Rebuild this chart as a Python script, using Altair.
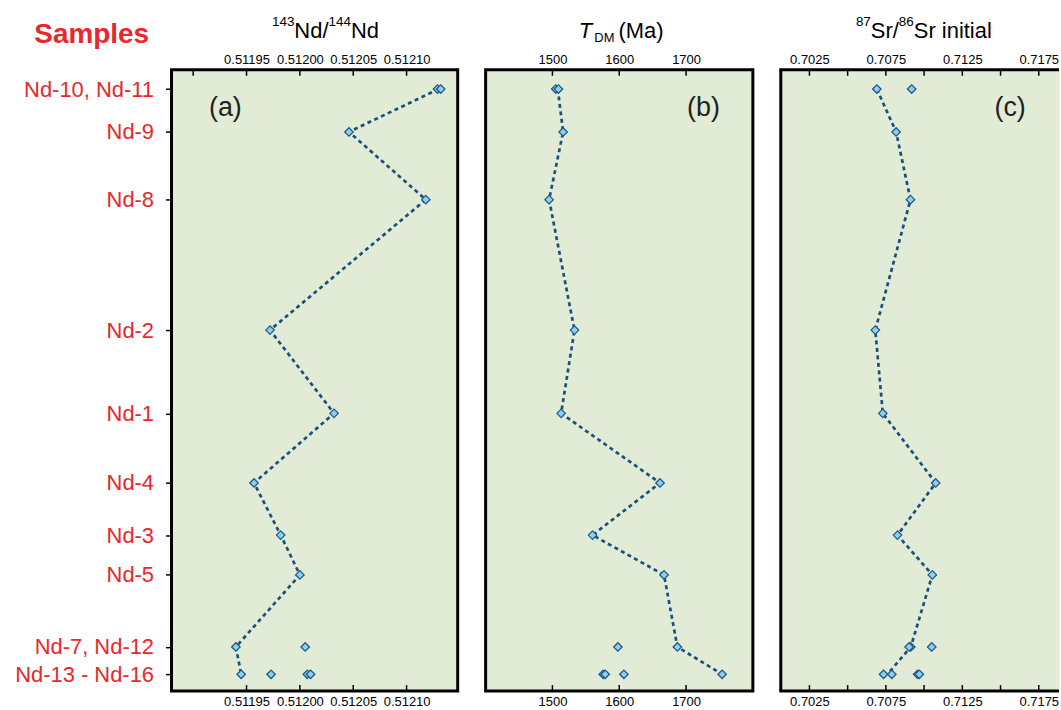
import json
import altair as alt
import pandas as pd

# ---------------- data ----------------
samples = ["Nd-10, Nd-11", "Nd-9", "Nd-8", "Nd-2", "Nd-1", "Nd-4", "Nd-3", "Nd-5",
           "Nd-7, Nd-12", "Nd-13 - Nd-16"]
# relative stratigraphic position (0 = top of column, 100 = base)
position = [3.1, 10.0, 20.9, 41.9, 55.3, 66.5, 74.9, 81.3, 92.9, 97.3]

nd_line = [0.512130, 0.512046, 0.512118, 0.511972, 0.512032, 0.511957, 0.511982,
           0.512000, 0.511940, 0.511945]
nd_points = [[0.512129, 0.512132], [0.512046], [0.512118], [0.511972], [0.512032],
             [0.511957], [0.511982], [0.512000], [0.511940, 0.512005],
             [0.511945, 0.511973, 0.512007, 0.512010]]

tdm_line = [1508, 1516, 1495, 1533, 1513, 1661, 1560, 1667, 1687, 1754]
tdm_points = [[1505, 1509], [1516], [1495], [1533], [1513], [1661], [1560], [1667],
              [1687, 1598], [1754, 1576, 1579, 1607]]

sr_line = [0.70691, 0.70817, 0.70911, 0.70681, 0.70730, 0.71076, 0.70826, 0.71054,
           0.70913, 0.70760]
sr_points = [[0.70691, 0.70919], [0.70817], [0.70911], [0.70681], [0.70730], [0.71076],
             [0.70826], [0.71054], [0.70913, 0.70902, 0.71050],
             [0.70735, 0.70789, 0.70958, 0.70969]]

nd_ticks_top = [0.51190, 0.51195, 0.51200, 0.51205, 0.51210]
nd_ticks_bottom = [0.51195, 0.51200, 0.51205, 0.51210]
nd_labels = [0.51195, 0.51200, 0.51205, 0.51210]
tdm_ticks = [1500, 1600, 1700]
tdm_labels = [1500, 1600, 1700]
sr_ticks = [0.7025, 0.7050, 0.7075, 0.7100, 0.7125, 0.7150, 0.7175]
sr_labels = [0.7025, 0.7075, 0.7125, 0.7175]

# ---------------- style ----------------
FONT = "Liberation Sans"
BG = "#e1ebd5"
LINE = "#1d4f7c"
FILL = "#8fd0ee"
MSTROKE = "#1f5a8a"
RED = "#e8282b"
H = 623


def line_frame(vals):
    return pd.DataFrame({"sample": samples, "pos": position, "v": vals})


def point_frame(lists):
    rows = []
    for s, p, vs in zip(samples, position, lists):
        for v in vs:
            rows.append({"sample": s, "pos": p, "v": v})
    return pd.DataFrame(rows)


ONE = alt.Data(values=[{}])


def txt(text, x, y, size, align="left", baseline="alphabetic", **kw):
    return alt.Chart(ONE).mark_text(text=text, align=align, baseline=baseline,
                                    fontSize=size, font=FONT, color="black", **kw).encode(
        x=alt.value(x), y=alt.value(y))


def anchor(x, y):
    # invisible corner marker that fixes the page bounds
    return alt.Chart(ONE).mark_rule(color="white", strokeWidth=1, opacity=0).encode(
        x=alt.value(x), y=alt.value(y), y2=alt.value(y + 0.5))


def panel(lvals, pvals, domain, width, ticks_top, ticks_bottom, labels, fmt, letter,
          letter_x, extra, left_axis=False, open_right=False):
    xs = alt.Scale(domain=domain, nice=False, zero=False)
    ys = alt.Scale(domain=[0, 100], reverse=True, nice=False, zero=False)
    axis_common = dict(values=labels, format=fmt, tickSize=0, domain=False, grid=False,
                       labelFontSize=13, labelFont=FONT, labelColor="black", title=None)
    if left_axis:
        expr = "%s[indexof(%s, datum.value)]" % (json.dumps(samples), json.dumps(position))
        yaxis = alt.Axis(values=position, labelExpr=expr, tickSize=6, tickWidth=1.5,
                         tickColor="black", domain=False, grid=False, labelFontSize=22,
                         labelFont=FONT, labelColor=RED, labelPadding=12, title=None)
    else:
        yaxis = None
    line = alt.Chart(line_frame(lvals)).mark_line(
        color=LINE, strokeWidth=2.7, strokeDash=[4, 3.5]).encode(
        x=alt.X("v:Q", scale=xs, axis=alt.Axis(orient="top", labelPadding=3, **axis_common)),
        y=alt.Y("pos:Q", scale=ys, axis=yaxis),
        order="pos:Q")
    pts = alt.Chart(point_frame(pvals)).mark_point(
        shape="diamond", filled=True, fill=FILL, stroke=MSTROKE, strokeWidth=1.3,
        size=72, opacity=1).encode(
        x=alt.X("v:Q", scale=xs, axis=alt.Axis(orient="bottom", labelPadding=4, **axis_common)),
        y=alt.Y("pos:Q", scale=ys, axis=None))
    ttop = alt.Chart(pd.DataFrame({"t": ticks_top})).mark_rule(
        color="black", strokeWidth=1.5).encode(
        x=alt.X("t:Q", scale=xs, axis=None), y=alt.value(0), y2=alt.value(6))
    tbot = alt.Chart(pd.DataFrame({"t": ticks_bottom})).mark_rule(
        color="black", strokeWidth=1.5).encode(
        x=alt.X("t:Q", scale=xs, axis=None), y=alt.value(H - 6), y2=alt.value(H))
    layers = [line, pts, ttop, tbot]
    layers.append(alt.Chart(ONE).mark_text(text=letter, align="center", baseline="middle",
                                           fontSize=27, font=FONT, color="#222222").encode(
        x=alt.value(letter_x), y=alt.value(38)))
    layers += extra
    if open_right:
        view = alt.ViewBackground(fill=BG, stroke="black", strokeOpacity=0)
        layers.append(alt.Chart(ONE).mark_rule(color="black", strokeWidth=3).encode(
            x=alt.value(0), y=alt.value(0), y2=alt.value(H)))
        layers.append(alt.Chart(ONE).mark_rule(color="black", strokeWidth=3).encode(
            x=alt.value(-1.5), x2=alt.value(width), y=alt.value(0)))
        layers.append(alt.Chart(ONE).mark_rule(color="black", strokeWidth=3).encode(
            x=alt.value(-1.5), x2=alt.value(width), y=alt.value(H)))
    else:
        view = alt.ViewBackground(fill=BG, stroke="black", strokeWidth=3)
    return alt.layer(*layers).resolve_axis(x="independent", y="independent").properties(
        width=width, height=H, view=view)


extra_a = [
    txt("143", 100.7, -43.5, 13.5),
    txt("Nd/", 123.2, -32, 22),
    txt("144", 157.4, -43.5, 13.5),
    txt("Nd", 179.9, -32, 22),
    alt.Chart(ONE).mark_text(text="Samples", align="center", baseline="alphabetic",
                             fontSize=28, font=FONT, fontWeight="bold", color=RED).encode(
        x=alt.value(-80), y=alt.value(-27)),
    anchor(-170.5, -67.5),
]
extra_b = [
    txt("T", 93.3, -32, 22, fontStyle="italic"),
    txt("DM", 109, -27.8, 13),
    txt("(Ma)", 133.3, -32, 22),
]
extra_c = [
    txt("87", 75.3, -43.5, 13.5),
    txt("Sr/", 90.3, -32, 22),
    txt("86", 118.4, -43.5, 13.5),
    txt("Sr initial", 133.4, -32, 22),
    anchor(278, H + 16),
]

pa = panel(nd_line, nd_points, [0.5118797, 0.5121479], 287, nd_ticks_top, nd_ticks_bottom,
           nd_labels, ".5f", "(a)", 54, extra_a, left_axis=True)
pb = panel(tdm_line, tdm_points, [1400, 1800], 268, tdm_ticks, tdm_ticks, tdm_labels, "d",
           "(b)", 218.5, extra_b)
pc = panel(sr_line, sr_points, [0.700628, 0.718824], 279, sr_ticks, sr_ticks, sr_labels,
           ".4f", "(c)", 230, extra_c, open_right=True)

chart = alt.hconcat(pa, pb, pc, spacing=28, bounds="flush").properties(
    autosize=alt.AutoSizeParams(type="pad"),
    padding=0,
    background="white",
).configure(font=FONT)

chart.save("out.html", embed_options={"renderer": "svg", "actions": False})
